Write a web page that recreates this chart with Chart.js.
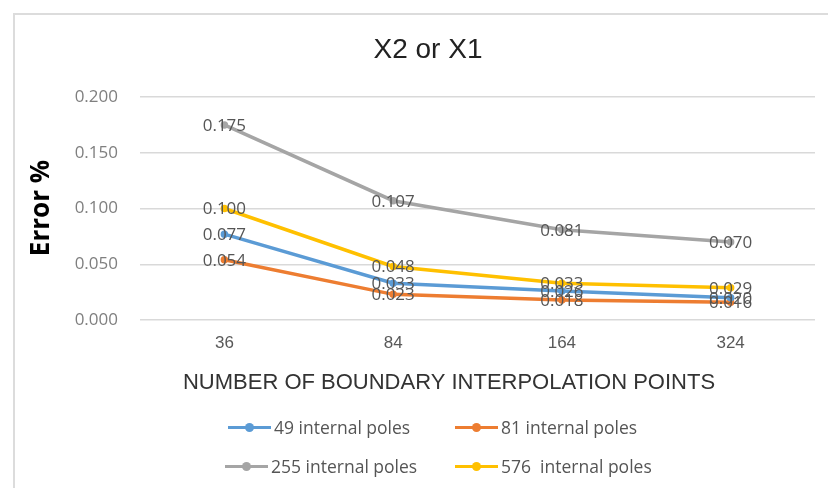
<!DOCTYPE html>
<html>
<head>
<meta charset="utf-8">
<script src="https://cdn.jsdelivr.net/npm/chart.js@4"></script>
<style>
  body { margin: 0; background: #fff; }
  #wrap { position: relative; width: 828px; height: 488px; overflow: hidden; }
  #frame { position: absolute; left: 13px; top: 13px; width: 830px; height: 490px; border: 2px solid #dcdcdc; box-sizing: border-box; }
  canvas { position: absolute; left: 0; top: 0; }
  .leg { position: absolute; font-family: "Open Sans", sans-serif; font-size: 17.5px; color: #555; white-space: pre; line-height: 22px; }
  .leg i { position: absolute; top: 10px; height: 3px; }
  .leg b { position: absolute; top: 7px; width: 9px; height: 9px; border-radius: 50%; }
</style>
</head>
<body>
<div id="wrap">
  <div id="frame"></div>
  <canvas id="c" width="828" height="488"></canvas>
  <div id="legend"></div>
</div>
<script>
var categories = ["36", "84", "164", "324"];
var seriesNames = ["49 internal poles", "81 internal poles", "255 internal poles", "576  internal poles"];
var poles49 = [0.077, 0.033, 0.026, 0.020];
var poles81 = [0.054, 0.023, 0.018, 0.016];
var poles255 = [0.175, 0.107, 0.081, 0.070];
var poles576 = [0.100, 0.048, 0.033, 0.029];
var yTicks = [0, 0.05, 0.1, 0.15, 0.2];
var colors = ["#5b9bd5", "#ed7d31", "#a5a5a5", "#ffc000"];

var allSeries = [poles49, poles81, poles255, poles576];
var datasets = [];
for (var i = 0; i < allSeries.length; i++) {
  datasets.push({
    label: seriesNames[i],
    data: allSeries[i],
    borderColor: colors[i],
    backgroundColor: colors[i],
    borderWidth: 3.5,
    pointRadius: 2,
    pointHoverRadius: 2,
    tension: 0
  });
}

// value labels + titles
var textPlugin = {
  id: "texts",
  afterDatasetsDraw: function (chart) {
    var ctx = chart.ctx;
    ctx.save();
    ctx.font = "17px 'Open Sans', sans-serif";
    ctx.fillStyle = "#555";
    ctx.textAlign = "center";
    ctx.textBaseline = "middle";
    chart.data.datasets.forEach(function (ds, di) {
      var meta = chart.getDatasetMeta(di);
      meta.data.forEach(function (pt, j) {
        ctx.fillText(ds.data[j].toFixed(3), pt.x, pt.y + 1);
      });
    });
    ctx.restore();
  },
  afterDraw: function (chart) {
    var ctx = chart.ctx;
    ctx.save();
    ctx.fillStyle = "#222";
    ctx.textAlign = "center";
    ctx.textBaseline = "middle";
    ctx.font = "28px 'Liberation Sans', Arial, sans-serif";
    ctx.fillText("X2 or X1", 428, 50, 126);
    ctx.fillStyle = "#333";
    ctx.font = "22px 'Liberation Sans', Arial, sans-serif";
    ctx.fillText("NUMBER OF BOUNDARY INTERPOLATION POINTS", 449, 383, 540);
    ctx.translate(42, 208);
    ctx.rotate(-Math.PI / 2);
    ctx.fillStyle = "#000";
    ctx.font = "bold 26px 'Open Sans', sans-serif";
    ctx.fillText("Error %", 0, 0);
    ctx.restore();
  }
};

new Chart(document.getElementById("c"), {
  type: "line",
  data: { labels: categories, datasets: datasets },
  plugins: [textPlugin],
  options: {
    responsive: false,
    animation: false,
    events: [],
    layout: { padding: { left: 0, right: 13, top: 97, bottom: 0 } },
    plugins: { legend: { display: false }, title: { display: false }, tooltip: { enabled: false } },
    scales: {
      x: {
        offset: true,
        grid: { display: false, drawTicks: false, offset: true },
        border: { display: false },
        ticks: { color: "#595959", padding: 13, font: { family: "'Liberation Sans Narrow', 'Liberation Sans', Arial", size: 17 } },
        afterFit: function (s) { s.height = 168; }
      },
      y: {
        min: 0,
        max: 0.2,
        afterBuildTicks: function (s) { s.ticks = yTicks.map(function (v) { return { value: v }; }); },
        grid: { color: "#d9d9d9", lineWidth: 1.5, drawTicks: false },
        border: { display: false },
        ticks: {
          color: "#7f7f7f",
          padding: 22,
          font: { family: "'Open Sans', sans-serif", size: 17 },
          callback: function (v) { return Number(v).toFixed(3); }
        },
        afterFit: function (s) { s.width = 140; }
      }
    }
  }
});

// legend in two rows
var legPos = [[228, 416], [455, 416], [225, 455], [455, 455]];
var html = "";
for (var k = 0; k < seriesNames.length; k++) {
  var p = legPos[k];
  html += '<div class="leg" style="left:' + p[0] + 'px;top:' + p[1] + 'px;padding-left:46px">' +
    '<i style="left:0;width:43px;background:' + colors[k] + '"></i>' +
    '<b style="left:17px;background:' + colors[k] + '"></b>' + seriesNames[k] + '</div>';
}
document.getElementById("legend").innerHTML = html;
</script>
</body>
</html>
